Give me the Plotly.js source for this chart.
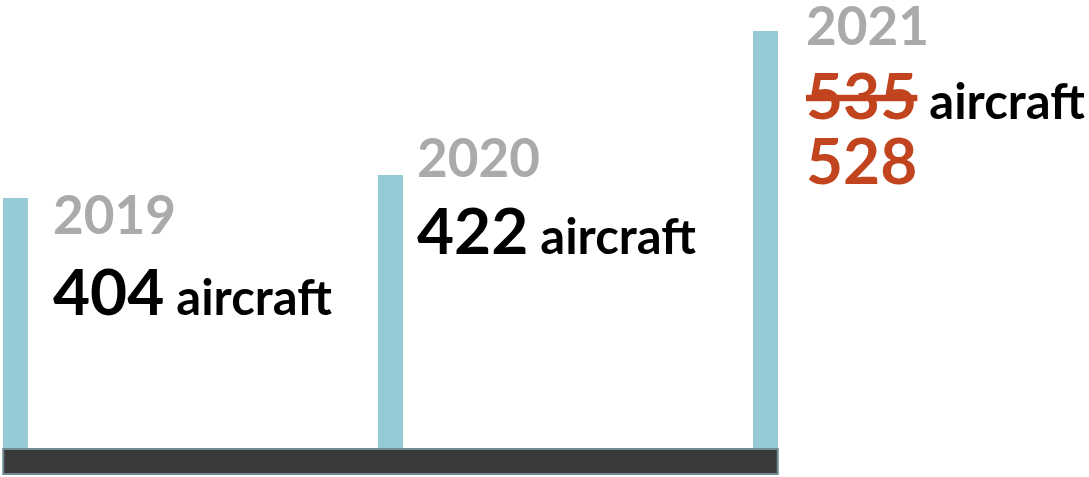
<!DOCTYPE html>
<html><head><meta charset="utf-8">
<script src="https://cdn.plot.ly/plotly-3.0.1.min.js"></script>
<style>html,body{margin:0;padding:0;background:#fff}#chart{width:1089px;height:477px}</style>
</head><body><div id="chart"></div>
<script>
// ---- data ----
const years = [2019, 2020, 2021];
const aircraft = [404, 422, 535];
const revised2021 = 528;
const unitLabel = 'aircraft';

// ---- styling / layout constants ----
const W = 1089, H = 477;
const plotH = 448;
const barColor = '#96cad4';
const grey = '#aaaaaa';
const red = '#c1441e';
const fontFam = 'Lato, "Open Sans", sans-serif';
const barW = 0.0653;
const xRange = [2019 - 15.5/375, 2019 + (W - 15.5)/375];
const yRange = [207, 559.7];

// label positions (px from left, baseline px from top)
const yearPos = [[52, 235], [416, 178], [805, 46]];
const valPos = [[52, 316], [416, 255], [805, 120]];
const revPos = [805, 185];

const px2x = p => p / W;
const desc = 0.213;
const base2y = (b, s) => 1 - (b + desc * s) / plotH;

const trace = {
  type: 'bar', x: years, y: aircraft, width: barW,
  marker: {color: barColor, line: {width: 0}},
  hoverinfo: 'skip'
};

const annotations = [];
years.forEach((yr, i) => {
  annotations.push({
    xref: 'paper', yref: 'paper', x: px2x(yearPos[i][0]), y: base2y(yearPos[i][1], 53),
    xanchor: 'left', yanchor: 'bottom', showarrow: false, borderpad: 0,
    text: String(yr), font: {family: fontFam, size: 53, color: grey, weight: 'bold'}
  });
  let num = i === years.length - 1
    ? `<span style="font-size:64px;color:${red}"><s>${aircraft[i]}</s></span>`
    : `<span style="font-size:64px">${aircraft[i]}</span>`;
  annotations.push({
    xref: 'paper', yref: 'paper', x: px2x(valPos[i][0]), y: base2y(valPos[i][1], 64),
    xanchor: 'left', yanchor: 'bottom', showarrow: false, borderpad: 0,
    text: `${num} ${unitLabel}`, font: {family: fontFam, size: 49, color: '#000', weight: 'bold'}
  });
});
annotations.push({
  xref: 'paper', yref: 'paper', x: px2x(revPos[0]), y: base2y(revPos[1], 64),
  xanchor: 'left', yanchor: 'bottom', showarrow: false, borderpad: 0,
  text: String(revised2021), font: {family: fontFam, size: 64, color: red, weight: 'bold'}
});

const layout = {
  width: W, height: H,
  margin: {l: 0, r: 0, t: 0, b: H - plotH, pad: 0},
  paper_bgcolor: '#fff', plot_bgcolor: '#fff',
  showlegend: false,
  xaxis: {range: xRange, visible: false, fixedrange: true},
  yaxis: {range: yRange, visible: false, fixedrange: true},
  bargap: 0,
  annotations: annotations,
  shapes: [{
    type: 'rect', xref: 'x', yref: 'paper',
    x0: years[0] - barW/2, x1: years[years.length-1] + barW/2,
    y0: -(474 - plotH)/plotH, y1: -(449 - plotH)/plotH,
    fillcolor: '#3a3a3a', line: {color: '#6f8b91', width: 2}, layer: 'above'
  }]
};

Plotly.newPlot('chart', [trace], layout, {displayModeBar: false, staticPlot: true});
</script></body></html>
